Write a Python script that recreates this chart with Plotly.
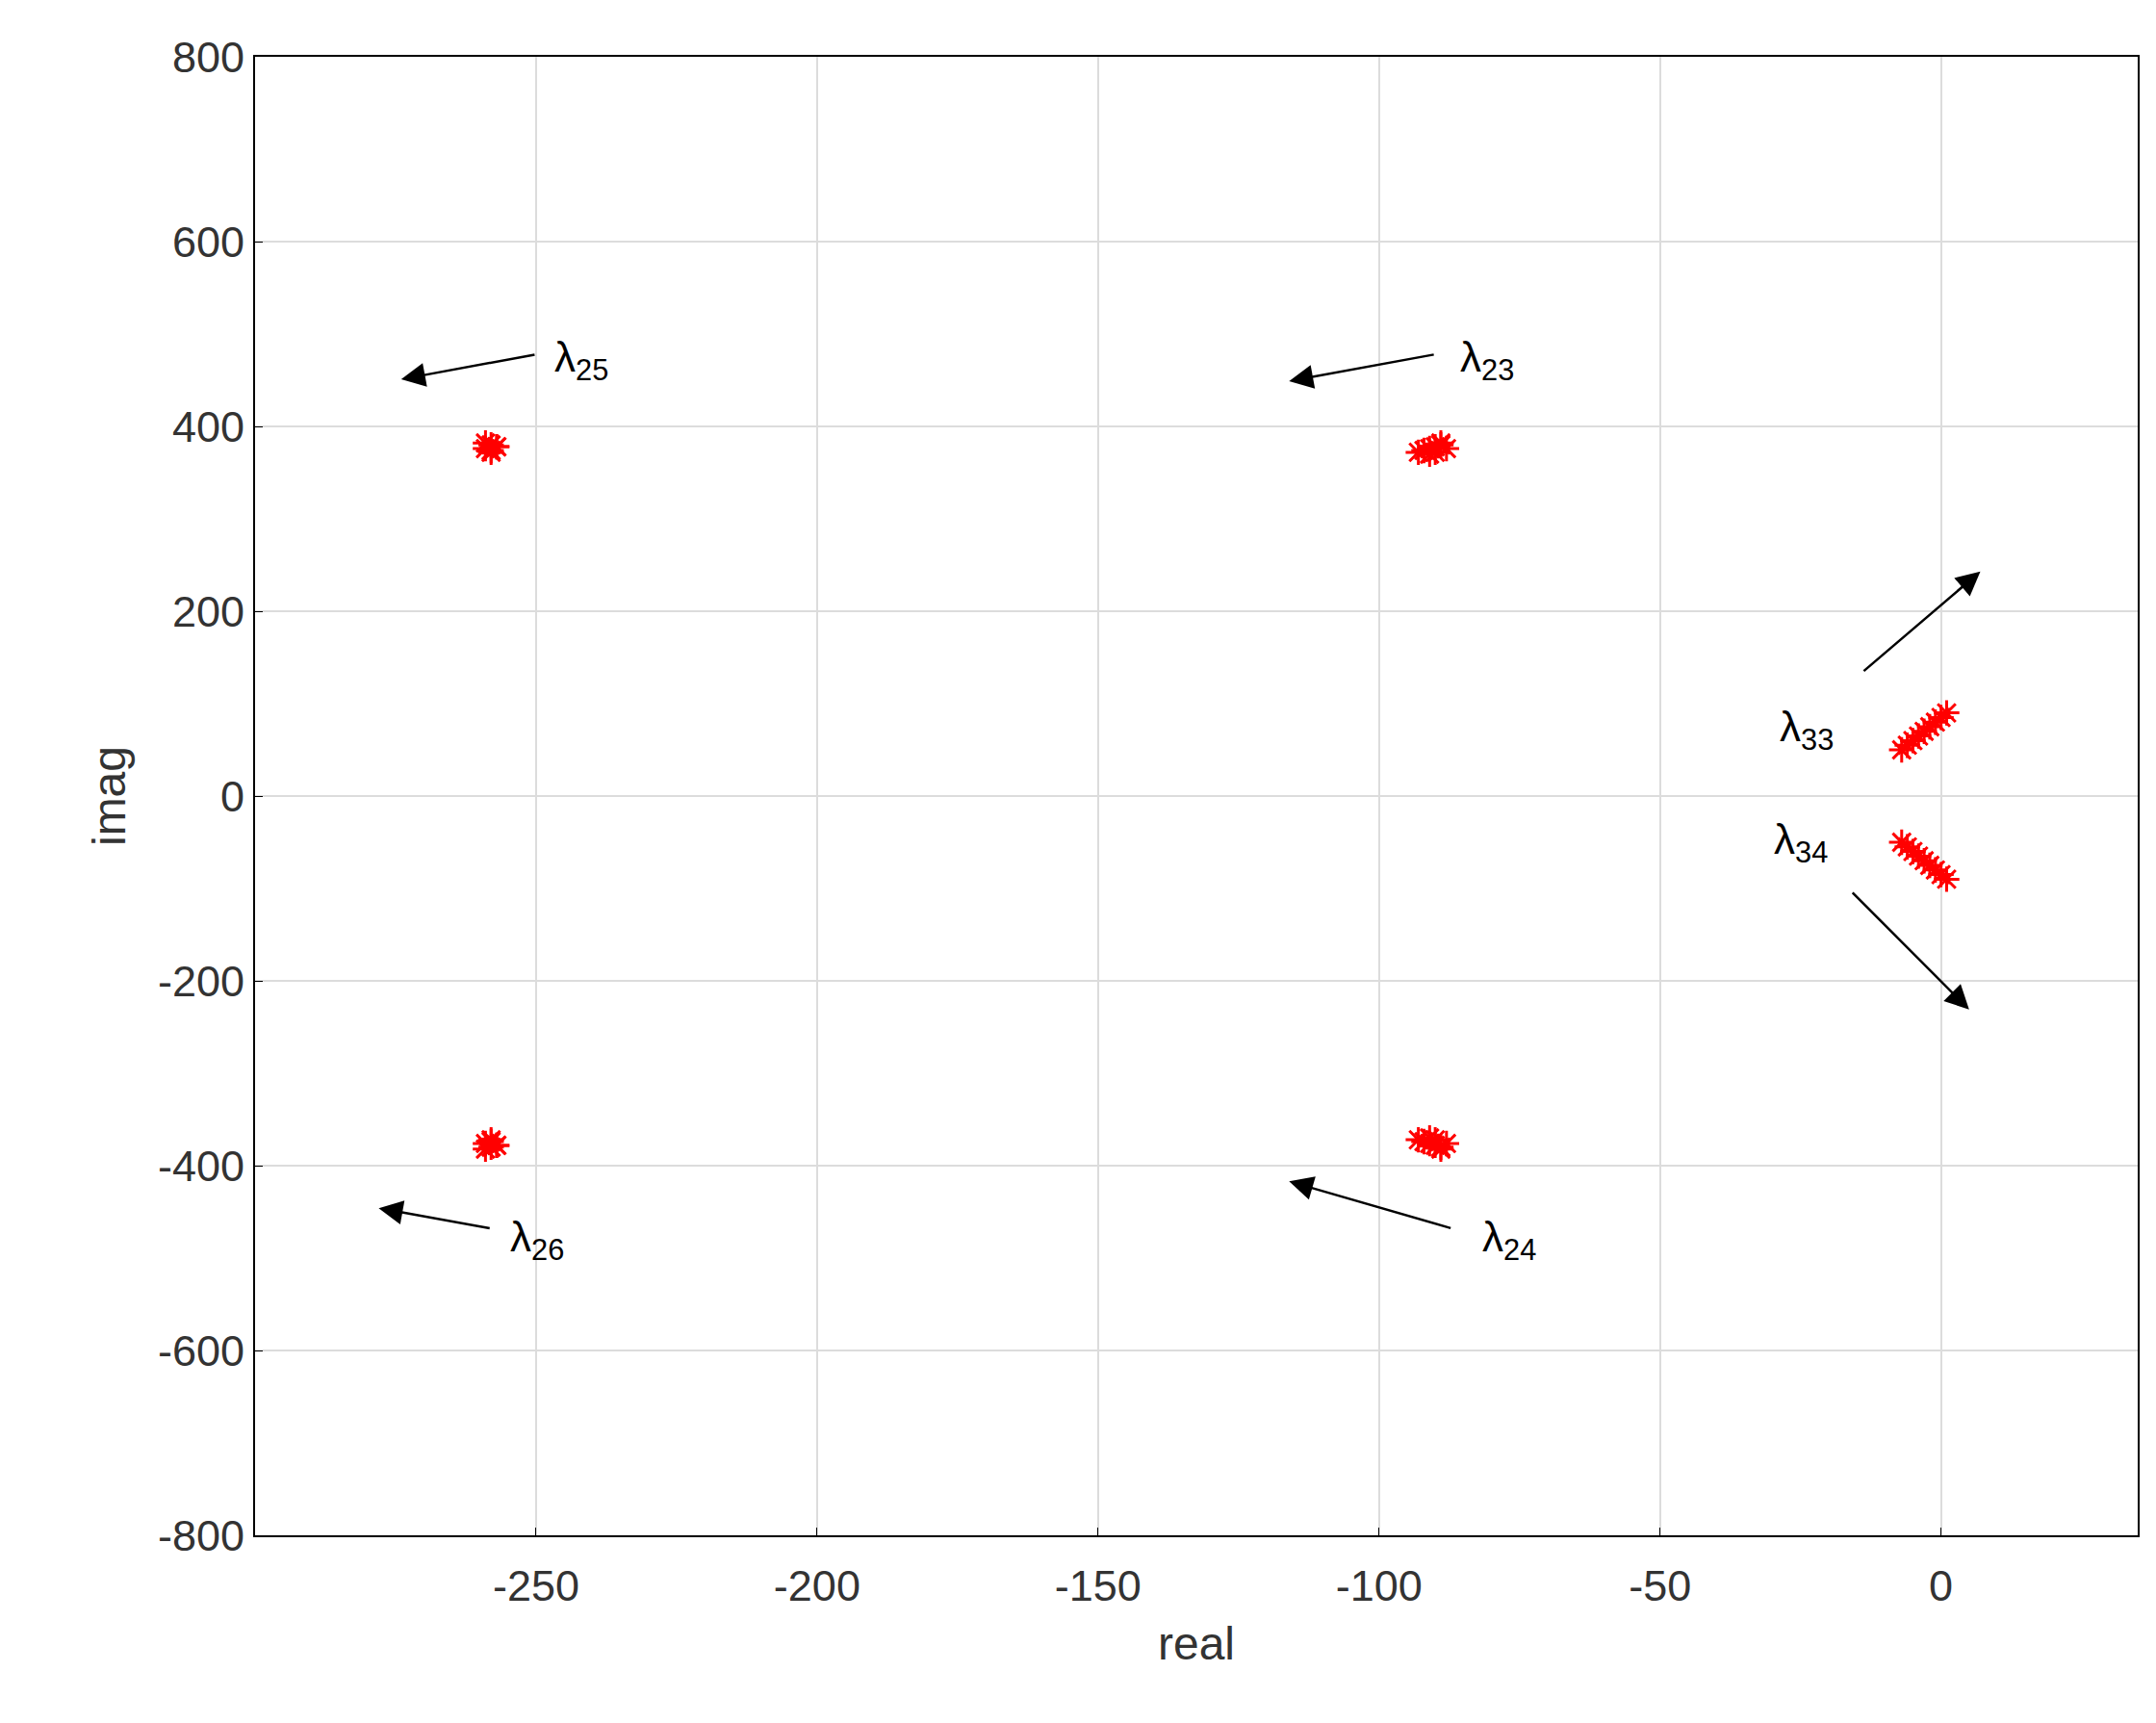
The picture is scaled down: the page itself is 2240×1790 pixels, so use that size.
import plotly.graph_objects as go

# eigenvalue clusters (real, imag)
l25_re = [-259, -258, -257, -259, -258, -257, -258]
l25_im = [382, 380, 378, 376, 374, 378, 372]
l23_re = [-93, -92, -91, -90, -89, -88, -91, -90, -89]
l23_im = [372, 374, 376, 378, 380, 376, 370, 372, 382]
l33_re = [-7, -6, -5, -4, -3, -2, -1, 0, 1]
l33_im = [50, 55, 60, 65, 70, 75, 80, 85, 90]
l34_re = [-7, -6, -5, -4, -3, -2, -1, 0, 1]
l34_im = [-50, -55, -60, -65, -70, -75, -80, -85, -90]

re_all = l25_re + l23_re + l33_re + l34_re + l25_re + l23_re
im_all = (l25_im + l23_im + l33_im + l34_im
          + [-v for v in l25_im] + [-v for v in l23_im])

x_ticks = [-250, -200, -150, -100, -50, 0]
y_ticks = [-800, -600, -400, -200, 0, 200, 400, 600, 800]

# labels: (text, x, y), arrows: (tail x, tail y, head x, head y)
labels = [("λ<sub>25</sub>", -247, 472), ("λ<sub>23</sub>", -86, 472),
          ("λ<sub>26</sub>", -255, -480), ("λ<sub>24</sub>", -82, -480),
          ("λ<sub>33</sub>", -29, 72), ("λ<sub>34</sub>", -30, -50)]
arrows = [(-250, 478, -274, 451), (-90, 478, -116, 449),
          (-258, -468, -278, -446), (-87, -468, -116, -417),
          (-14, 134, 7, 243), (-16, -103, 5, -231)]

fig = go.Figure()
fig.add_trace(go.Scatter(
    x=re_all, y=im_all, mode='markers',
    marker=dict(symbol='asterisk-open', size=22, color='red',
                line=dict(color='red', width=3)),
    showlegend=False
))

for t, x, y in labels:
    fig.add_annotation(x=x, y=y, text=t, showarrow=False, xanchor='left',
                       font=dict(size=44, color='black'))
for tx, ty, hx, hy in arrows:
    fig.add_annotation(x=hx, y=hy, ax=tx, ay=ty, xref='x', yref='y',
                       axref='x', ayref='y', text='', showarrow=True,
                       arrowhead=2, arrowsize=2, arrowwidth=2.5,
                       arrowcolor='black')

axis_style = dict(showgrid=True, gridcolor='#dcdcdc', gridwidth=2,
                  zeroline=False, showline=True, linecolor='black',
                  linewidth=2, mirror=True, ticks='inside', ticklen=8,
                  tickcolor='black', tickfont=dict(size=45, color='#333333'))

fig.update_layout(
    width=2240, height=1790,
    paper_bgcolor='white', plot_bgcolor='white',
    font=dict(family='Liberation Sans, Arial, sans-serif'),
    margin=dict(l=257, r=27, t=51, b=203),
    xaxis=dict(range=[-300, 35], tickvals=x_ticks,
               ticktext=[str(v) for v in x_ticks],
               title=dict(text='real', font=dict(size=48, color='#333333'), standoff=18),
               **axis_style),
    yaxis=dict(range=[-800, 800], tickvals=y_ticks,
               ticktext=[str(v) for v in y_ticks],
               title=dict(text='imag', font=dict(size=48, color='#333333'), standoff=18),
               **axis_style),
)
fig.update_xaxes(ticklabelstandoff=12)

fig.write_html("out.html")
